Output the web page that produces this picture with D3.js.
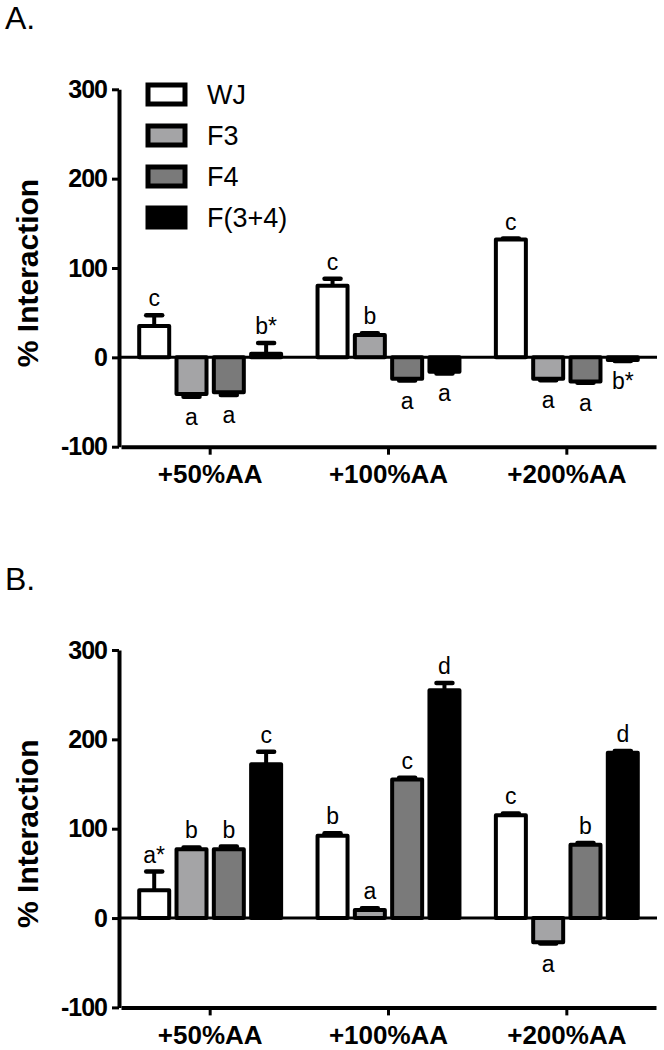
<!DOCTYPE html>
<html>
<head>
<meta charset="utf-8">
<script src="https://cdn.jsdelivr.net/npm/d3@7"></script>
<style>
  html, body { margin: 0; padding: 0; background: #fff; }
  svg { display: block; }
  text { font-family: "Liberation Sans", Arial, sans-serif; }
</style>
</head>
<body>
<svg id="chart" width="664" height="1050"></svg>
<script>
// ---------- data ----------
const categories = ["+50%AA", "+100%AA", "+200%AA"];
const series = ["WJ", "F3", "F4", "F(3+4)"];
const yTicks = [-100, 0, 100, 200, 300];

// Panel A values (rows = categories, cols = series)
const valuesA = [
  [35, -41, -39, 4],
  [80, 25, -24, -16],
  [132, -24, -27, -3]
];
const errorsA = [
  [12, 3, 3, 12],
  [8, 2, 2, 2],
  [1, 1.5, 1.5, 1]
];
const lettersA = [
  ["c", "a", "a", "b*"],
  ["c", "b", "a", "a"],
  ["c", "a", "a", "b*"]
];

// Panel B values
const valuesB = [
  [31, 77, 77, 172],
  [92, 9, 155, 255],
  [115, -27, 82, 185]
];
const errorsB = [
  [21, 2, 3, 14],
  [3, 2, 2, 8],
  [2, 1.5, 2, 2]
];
const lettersB = [
  ["a*", "b", "b", "c"],
  ["b", "a", "c", "d"],
  ["c", "a", "b", "d"]
];

const fills = ["#ffffff", "#a4a4a6", "#7a7a7a", "#000000"];
const panelLabels = ["A.", "B."];

// ---------- drawing ----------
const svg = d3.select("#chart");

const axisX = 119;
const x0 = d3.scaleBand().domain(categories).range([121, 656]).paddingInner(0).paddingOuter(0);
const x1 = d3.scaleBand().domain(series).range([0, x0.bandwidth()]).paddingInner(0.196).paddingOuter(0.488);
const color = d3.scaleOrdinal().domain(series).range(fills);

function drawPanel(offsetY, label, values, errors, letters, withLegend) {
  const g = svg.append("g").attr("transform", `translate(0,${offsetY})`);
  const y = d3.scaleLinear().domain([-100, 300]).range([446.7, 89.3]);

  // panel label
  g.append("text").attr("x", 5).attr("y", 29)
    .attr("font-size", 32).attr("fill", "#000").text(label);

  // y axis
  const ya = g.append("g").attr("transform", `translate(${axisX},0)`)
    .call(d3.axisLeft(y).tickValues(yTicks).tickSize(7).tickSizeOuter(0).tickPadding(5).tickFormat(d => String(d)));
  ya.select(".domain").attr("stroke", "#000").attr("stroke-width", 4);
  ya.selectAll(".tick line").attr("stroke", "#000").attr("stroke-width", 3);
  ya.selectAll(".tick text").attr("font-size", 25).attr("font-weight", "bold")
    .attr("font-family", "'Liberation Sans', Arial, sans-serif").attr("fill", "#000")
    .attr("letter-spacing", -1);

  // x axis at bottom (-100)
  const xa = g.append("g").attr("transform", `translate(0,${y(-100)})`)
    .call(d3.axisBottom(x0).tickSize(8).tickSizeOuter(0).tickPadding(10));
  xa.select(".domain").attr("stroke", "#000").attr("stroke-width", 4);
  xa.selectAll(".tick line").attr("stroke", "#000").attr("stroke-width", 3);
  xa.selectAll(".tick text").attr("font-size", 26).attr("font-weight", "bold")
    .attr("font-family", "'Liberation Sans', Arial, sans-serif").attr("fill", "#000");

  // y label
  g.append("text")
    .attr("transform", `translate(38,${(y(300) + y(-100)) / 2 + 5}) rotate(-90)`)
    .attr("text-anchor", "middle").attr("font-size", 30).attr("font-weight", "bold")
    .attr("fill", "#000").text("% Interaction");

  const rows = [];
  categories.forEach((c, i) => {
    series.forEach((s, j) => {
      rows.push({ cat: c, ser: s, v: values[i][j], e: errors[i][j], l: letters[i][j] });
    });
  });

  const bx = d => x0(d.cat) + x1(d.ser);
  const bw = x1.bandwidth();

  // error bars (stem + cap)
  const eb = g.append("g");
  rows.forEach(d => {
    const sgn = d.v >= 0 ? 1 : -1;
    const end = d.v + sgn * d.e;
    const cx = bx(d) + bw / 2;
    eb.append("line").attr("x1", cx).attr("x2", cx)
      .attr("y1", y(d.v)).attr("y2", y(end))
      .attr("stroke", "#000").attr("stroke-width", 4);
    eb.append("line").attr("x1", cx - 8).attr("x2", cx + 8)
      .attr("y1", y(end)).attr("y2", y(end))
      .attr("stroke", "#000").attr("stroke-width", 4.5).attr("stroke-linecap", "round");
  });

  // bars
  g.append("g").selectAll("rect").data(rows).join("rect")
    .attr("x", bx)
    .attr("width", bw)
    .attr("y", d => y(Math.max(0, d.v)))
    .attr("height", d => Math.abs(y(d.v) - y(0)))
    .attr("fill", d => color(d.ser))
    .attr("stroke", "#000").attr("stroke-width", 4).attr("stroke-linejoin", "round");

  // zero line
  g.append("line").attr("x1", axisX).attr("x2", 657)
    .attr("y1", y(0)).attr("y2", y(0))
    .attr("stroke", "#000").attr("stroke-width", 3);

  // significance letters
  g.append("g").selectAll("text").data(rows).join("text")
    .attr("x", d => bx(d) + bw / 2)
    .attr("y", d => {
      const sgn = d.v >= 0 ? 1 : -1;
      const end = d.v + sgn * d.e;
      return sgn > 0 ? y(end) - 9 : y(end) + 28;
    })
    .attr("text-anchor", "middle").attr("font-size", 23).attr("fill", "#000")
    .text(d => d.l);

  if (withLegend) {
    const lg = g.append("g");
    series.forEach((s, j) => {
      const cy = 94.5 + j * 41;
      lg.append("rect").attr("x", 148).attr("y", cy - 9.5).attr("width", 37).attr("height", 19)
        .attr("fill", color(s)).attr("stroke", "#000").attr("stroke-width", 5);
      lg.append("text").attr("x", 207).attr("y", cy + 9.5).attr("font-size", 27)
        .attr("fill", "#000").text(s);
    });
  }
}

drawPanel(0, panelLabels[0], valuesA, errorsA, lettersA, true);
drawPanel(560.7, panelLabels[1], valuesB, errorsB, lettersB, false);
</script>
</body>
</html>
